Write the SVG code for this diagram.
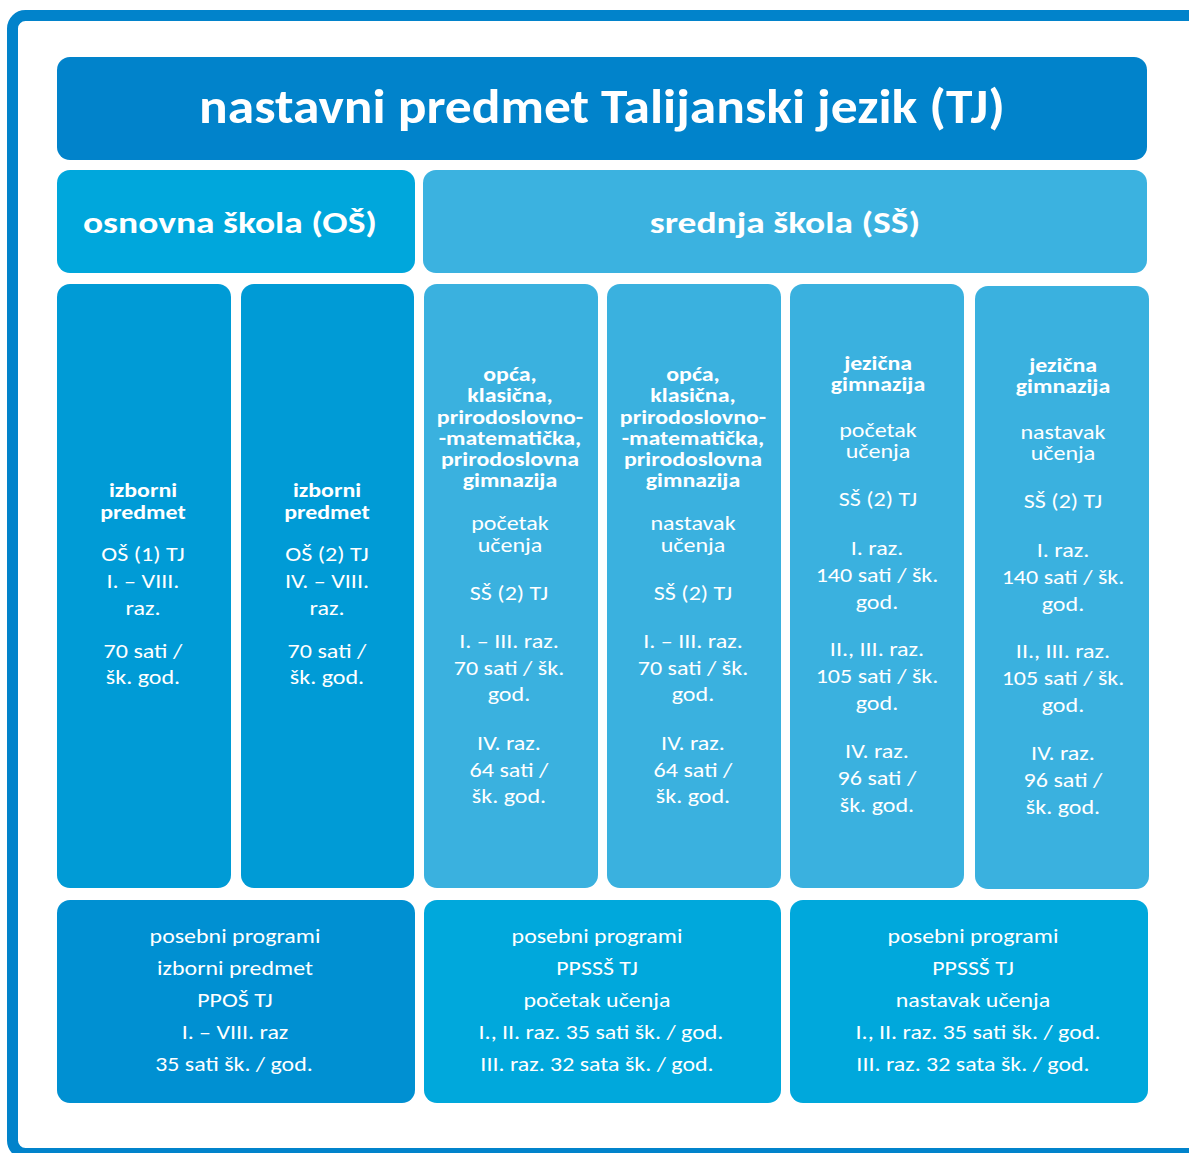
<svg xmlns="http://www.w3.org/2000/svg" width="1189" height="1153" viewBox="0 0 1189 1153">
  <style>
    text { font-family: Carlito, Lato, "Open Sans", sans-serif; fill: #ffffff; text-anchor: middle;
           transform-box: fill-box; transform-origin: center; }
    .title { font-size: 48px; font-weight: bold; transform: scaleX(1.114); }
    .head { font-size: 30px; font-weight: bold; transform: scaleX(1.25); }
    .b { font-size: 20px; font-weight: bold; transform: scaleX(1.195); }
    .r { font-size: 19.5px; transform: scaleX(1.234); }
    .p { font-size: 20px; transform: scaleX(1.197); }
    .c-title { fill: #0183cb; }
    .c-os { fill: #00a7dc; }
    .c-ss { fill: #3bb2e0; }
    .c-oscol { fill: #009bd6; }
    .c-sscol { fill: #3ab1df; }
    .c-pos { fill: #0090d2; }
    .c-pss { fill: #00a8dc; }
  </style>

  <!-- outer frame -->
  <rect x="12.5" y="15.5" width="1200" height="1138" rx="13" fill="#ffffff" stroke="#0183cb" stroke-width="11"/>

  <!-- title bar -->
  <g id="title">
    <rect class="c-title" x="57" y="57" width="1090" height="103" rx="13"/>
    <text class="title" x="602" y="123">nastavni predmet Talijanski jezik (TJ)</text>
  </g>

  <!-- school level headers -->
  <g id="os-header">
    <rect class="c-os" x="57" y="170" width="358" height="103" rx="13"/>
    <text class="head" x="230" y="233">osnovna škola (OŠ)</text>
  </g>
  <g id="ss-header">
    <rect class="c-ss" x="423" y="170" width="724" height="103" rx="13"/>
    <text class="head" x="785" y="233">srednja škola (SŠ)</text>
  </g>

  <!-- OŠ columns -->
  <g id="os1">
    <rect class="c-oscol" x="57" y="284" width="174" height="604" rx="13"/>
    <text class="b" x="143" y="497">izborni</text>
    <text class="b" x="143" y="519">predmet</text>
    <text class="r" x="143" y="561">OŠ (1) TJ</text>
    <text class="r" x="143" y="588">I. – VIII.</text>
    <text class="r" x="143" y="615">raz.</text>
    <text class="r" x="143" y="658">70 sati /</text>
    <text class="r" x="143" y="684">šk. god.</text>
  </g>
  <g id="os2">
    <rect class="c-oscol" x="241" y="284" width="173" height="604" rx="13"/>
    <text class="b" x="327" y="497">izborni</text>
    <text class="b" x="327" y="519">predmet</text>
    <text class="r" x="327" y="561">OŠ (2) TJ</text>
    <text class="r" x="327" y="588">IV. – VIII.</text>
    <text class="r" x="327" y="615">raz.</text>
    <text class="r" x="327" y="658">70 sati /</text>
    <text class="r" x="327" y="684">šk. god.</text>
  </g>

  <!-- SŠ columns -->
  <g id="ss1">
    <rect class="c-sscol" x="424" y="284" width="174" height="604" rx="13"/>
    <text class="b" x="510" y="381">opća,</text>
    <text class="b" x="510" y="402">klasična,</text>
    <text class="b" x="510" y="424">prirodoslovno-</text>
    <text class="b" x="510" y="445">-matematička,</text>
    <text class="b" x="510" y="466">prirodoslovna</text>
    <text class="b" x="510" y="487">gimnazija</text>
    <text class="r" x="510" y="530">početak</text>
    <text class="r" x="510" y="552">učenja</text>
    <text class="r" x="509" y="600">SŠ (2) TJ</text>
    <text class="r" x="509" y="648">I. – III. raz.</text>
    <text class="r" x="509" y="675">70 sati / šk.</text>
    <text class="r" x="509" y="701">god.</text>
    <text class="r" x="509" y="750">IV. raz.</text>
    <text class="r" x="509" y="777">64 sati /</text>
    <text class="r" x="509" y="803">šk. god.</text>
  </g>
  <g id="ss2">
    <rect class="c-sscol" x="607" y="284" width="174" height="604" rx="13"/>
    <text class="b" x="693" y="381">opća,</text>
    <text class="b" x="693" y="402">klasična,</text>
    <text class="b" x="693" y="424">prirodoslovno-</text>
    <text class="b" x="693" y="445">-matematička,</text>
    <text class="b" x="693" y="466">prirodoslovna</text>
    <text class="b" x="693" y="487">gimnazija</text>
    <text class="r" x="693" y="530">nastavak</text>
    <text class="r" x="693" y="552">učenja</text>
    <text class="r" x="693" y="600">SŠ (2) TJ</text>
    <text class="r" x="693" y="648">I. – III. raz.</text>
    <text class="r" x="693" y="675">70 sati / šk.</text>
    <text class="r" x="693" y="701">god.</text>
    <text class="r" x="693" y="750">IV. raz.</text>
    <text class="r" x="693" y="777">64 sati /</text>
    <text class="r" x="693" y="803">šk. god.</text>
  </g>
  <g id="ss3">
    <rect class="c-sscol" x="790" y="284" width="174" height="604" rx="13"/>
    <text class="b" x="878" y="370">jezična</text>
    <text class="b" x="878" y="391">gimnazija</text>
    <text class="r" x="878" y="437">početak</text>
    <text class="r" x="878" y="458">učenja</text>
    <text class="r" x="878" y="506">SŠ (2) TJ</text>
    <text class="r" x="877" y="555">I. raz.</text>
    <text class="r" x="877" y="582">140 sati / šk.</text>
    <text class="r" x="877" y="609">god.</text>
    <text class="r" x="877" y="656">II., III. raz.</text>
    <text class="r" x="877" y="683">105 sati / šk.</text>
    <text class="r" x="877" y="710">god.</text>
    <text class="r" x="877" y="758">IV. raz.</text>
    <text class="r" x="877" y="785">96 sati /</text>
    <text class="r" x="877" y="812">šk. god.</text>
  </g>
  <g id="ss4">
    <rect class="c-sscol" x="975" y="286" width="174" height="603" rx="13"/>
    <text class="b" x="1063" y="372">jezična</text>
    <text class="b" x="1063" y="393">gimnazija</text>
    <text class="r" x="1063" y="439">nastavak</text>
    <text class="r" x="1063" y="460">učenja</text>
    <text class="r" x="1063" y="508">SŠ (2) TJ</text>
    <text class="r" x="1063" y="557">I. raz.</text>
    <text class="r" x="1063" y="584">140 sati / šk.</text>
    <text class="r" x="1063" y="611">god.</text>
    <text class="r" x="1063" y="658">II., III. raz.</text>
    <text class="r" x="1063" y="685">105 sati / šk.</text>
    <text class="r" x="1063" y="712">god.</text>
    <text class="r" x="1063" y="760">IV. raz.</text>
    <text class="r" x="1063" y="787">96 sati /</text>
    <text class="r" x="1063" y="814">šk. god.</text>
  </g>

  <!-- special programmes -->
  <g id="pp-os">
    <rect class="c-pos" x="57" y="900" width="358" height="203" rx="13"/>
    <text class="p" x="235" y="943">posebni programi</text>
    <text class="p" x="235" y="975">izborni predmet</text>
    <text class="p" x="235" y="1007">PPOŠ TJ</text>
    <text class="p" x="235" y="1039">I. – VIII. raz</text>
    <text class="p" x="234" y="1071">35 sati šk. / god.</text>
  </g>
  <g id="pp-ss1">
    <rect class="c-pss" x="424" y="900" width="357" height="203" rx="13"/>
    <text class="p" x="597" y="943">posebni programi</text>
    <text class="p" x="597" y="975">PPSSŠ TJ</text>
    <text class="p" x="597" y="1007">početak učenja</text>
    <text class="p" x="601" y="1039">I., II. raz. 35 sati šk. / god.</text>
    <text class="p" x="597" y="1071">III. raz. 32 sata šk. / god.</text>
  </g>
  <g id="pp-ss2">
    <rect class="c-pss" x="790" y="900" width="358" height="203" rx="13"/>
    <text class="p" x="973" y="943">posebni programi</text>
    <text class="p" x="973" y="975">PPSSŠ TJ</text>
    <text class="p" x="973" y="1007">nastavak učenja</text>
    <text class="p" x="978" y="1039">I., II. raz. 35 sati šk. / god.</text>
    <text class="p" x="973" y="1071">III. raz. 32 sata šk. / god.</text>
  </g>
</svg>
